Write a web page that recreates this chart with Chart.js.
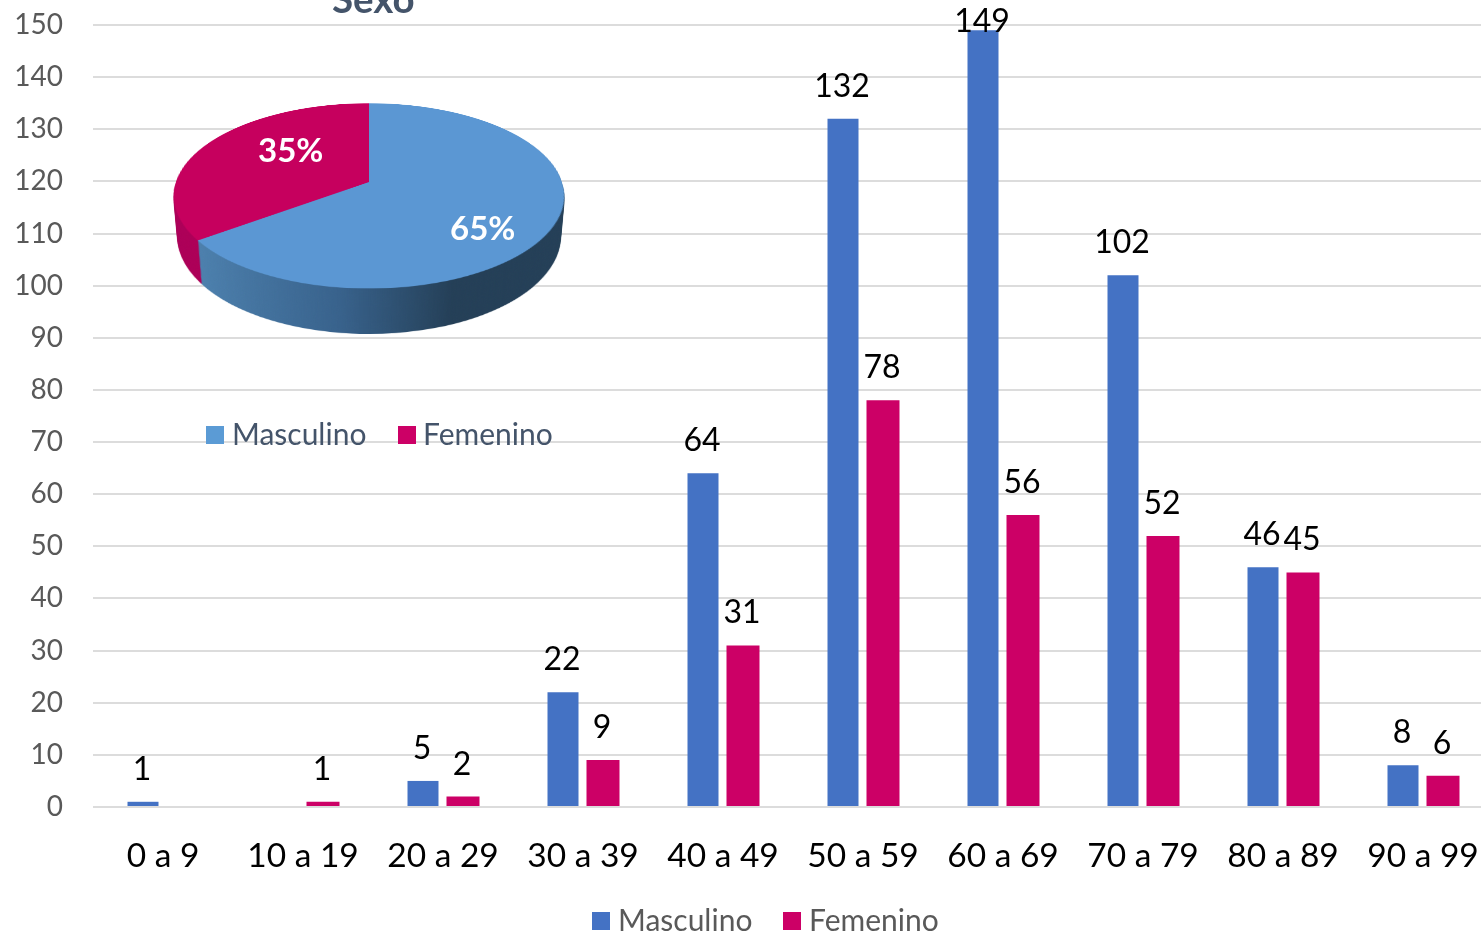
<!DOCTYPE html>
<html>
<head>
<meta charset="utf-8">
<script src="https://cdn.jsdelivr.net/npm/chart.js@4"></script>
<style>
  html, body { margin: 0; padding: 0; background: #fff; overflow: hidden; width: 1481px; height: 933px; }
  body { position: relative; font-family: Lato, sans-serif; }
  canvas { position: absolute; }
  .txt { position: absolute; white-space: nowrap; line-height: 1; }
  .box { position: absolute; width: 18px; height: 18px; }
</style>
</head>
<body>
<canvas id="barchart" width="1530" height="933" style="left:0;top:0"></canvas>
<div id="pie3d"></div>
<script>
const categories = ['0 a 9', '10 a 19', '20 a 29', '30 a 39', '40 a 49', '50 a 59', '60 a 69', '70 a 79', '80 a 89', '90 a 99'];
const masculino = [1, null, 5, 22, 64, 132, 149, 102, 46, 8];
const femenino = [null, 1, 2, 9, 31, 78, 56, 52, 45, 6];
const yTicks = [0, 10, 20, 30, 40, 50, 60, 70, 80, 90, 100, 110, 120, 130, 140, 150];

const pieTitle = 'Sexo';
const pieLabels = ['Masculino', 'Femenino'];
const pieValues = [65, 35];
const pieColors = ['#5b97d3', '#c6005e'];

const blue = '#4472c4';
const pink = '#cc0066';

// value labels over the bars
const barLabels = {
  id: 'barLabels',
  afterDatasetsDraw(chart) {
    const ctx = chart.ctx;
    ctx.save();
    ctx.font = '32px Lato';
    ctx.fillStyle = '#000';
    ctx.textAlign = 'center';
    ctx.textBaseline = 'alphabetic';
    chart.data.datasets.forEach((ds, i) => {
      chart.getDatasetMeta(i).data.forEach((bar, j) => {
        if (ds.data[j] == null) return;
        ctx.fillText(ds.data[j], bar.x - 1, Math.max(bar.y - 22, 32));
      });
    });
    ctx.restore();
  }
};

new Chart(document.getElementById('barchart'), {
  type: 'bar',
  data: {
    labels: categories,
    datasets: [
      { label: 'Masculino', data: masculino, backgroundColor: blue, barPercentage: 0.775, categoryPercentage: 0.5714 },
      { label: 'Femenino', data: femenino, backgroundColor: pink, barPercentage: 0.825, categoryPercentage: 0.5714 }
    ]
  },
  options: {
    responsive: false,
    animation: false,
    layout: { padding: { top: 25, right: 37, bottom: 0, left: 0 } },
    plugins: { legend: { display: false }, tooltip: { enabled: false } },
    scales: {
      x: {
        grid: { display: false },
        border: { display: false },
        ticks: { color: '#000', font: { family: 'Lato', size: 33.5 }, maxRotation: 0, autoSkip: false, padding: 21 },
        afterFit: scale => { scale.height = 126; }
      },
      y: {
        min: 0,
        max: 150,
        afterBuildTicks: scale => { scale.ticks = yTicks.map(v => ({ value: v })); },
        grid: { color: '#dcdcdc', lineWidth: 2, drawTicks: false },
        border: { display: false },
        ticks: { color: '#595959', font: { family: 'Lato', size: 28 }, padding: 30 },
        afterFit: scale => { scale.width = 93; scale.paddingTop = 0; scale.paddingBottom = 0; }
      }
    }
  },
  plugins: [barLabels]
});

// inset pie: a real Chart.js pie tilted with a css perspective, side wall from stacked copies
const pieBox = document.getElementById('pie3d');
const pieSize = 386;
const tilt = 'perspective(1137px) rotateX(62deg)';
const pieLeft = 368.5 - pieSize / 2;
const pieTop = 182 - pieSize / 2;
const wallDepth = 47;

function makePie(colors, dpr) {
  const c = document.createElement('canvas');
  c.width = pieSize;
  c.height = pieSize;
  c.style.left = pieLeft + 'px';
  c.style.top = pieTop + 'px';
  c.style.transform = tilt;
  c.style.transformOrigin = '50% 50%';
  pieBox.appendChild(c);
  new Chart(c, {
    type: 'pie',
    data: { labels: pieLabels, datasets: [{ data: pieValues, backgroundColor: colors, borderWidth: 0 }] },
    options: {
      responsive: false,
      animation: false,
      devicePixelRatio: dpr,
      layout: { padding: 0 },
      plugins: { legend: { display: false }, tooltip: { enabled: false } }
    }
  });
  return c;
}

function wallColor(context) {
  if (context.dataIndex === 1) return '#ad0058';
  const g = context.chart.ctx.createLinearGradient(20, 0, 265, 0);
  g.addColorStop(0, '#4f84b2');
  g.addColorStop(0.6, '#38628c');
  g.addColorStop(1, '#243f57');
  return g;
}

const wall = makePie(wallColor, 1);
wall.style.transform = tilt + ' translateZ(' + (-wallDepth) + 'px)';
for (let d = wallDepth - 1; d >= 1; d--) {
  const copy = document.createElement('canvas');
  copy.width = wall.width;
  copy.height = wall.height;
  copy.style.cssText = wall.style.cssText;
  copy.style.width = pieSize + 'px';
  copy.style.height = pieSize + 'px';
  copy.style.transform = tilt + ' translateZ(' + (-d) + 'px)';
  copy.getContext('2d').drawImage(wall, 0, 0);
  pieBox.appendChild(copy);
}
makePie(pieColors, 2);

function addText(str, x, y, size, color, weight) {
  const d = document.createElement('div');
  d.className = 'txt';
  d.textContent = str;
  d.style.left = x + 'px';
  d.style.top = y + 'px';
  d.style.fontSize = size + 'px';
  d.style.color = color;
  d.style.fontWeight = weight || 400;
  document.body.appendChild(d);
}

function addBox(x, y, color) {
  const d = document.createElement('div');
  d.className = 'box';
  d.style.left = x + 'px';
  d.style.top = y + 'px';
  d.style.background = color;
  document.body.appendChild(d);
}

addText(pieTitle, 332, -21, 38.5, '#44546a', 700);
addText(pieValues[1] + '%', 258, 133, 33, '#fff', 700);
addText(pieValues[0] + '%', 450, 211, 33, '#fff', 700);

addBox(206, 426, '#5b9bd5');
addText(pieLabels[0], 232, 418, 30, '#44546a');
addBox(398, 426, pink);
addText(pieLabels[1], 423, 418, 30, '#44546a');

addBox(592, 912, blue);
addText('Masculino', 618, 904, 30, '#595959');
addBox(783, 912, pink);
addText('Femenino', 809, 904, 30, '#595959');
</script>
</body>
</html>
